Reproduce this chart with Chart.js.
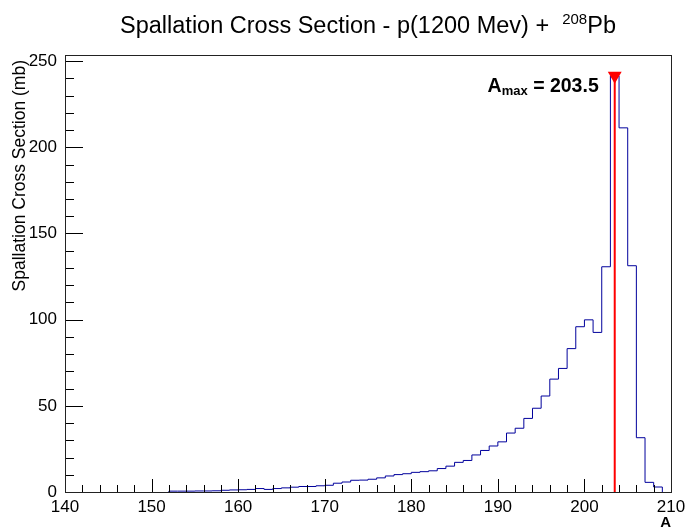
<!DOCTYPE html>
<html>
<head>
<meta charset="utf-8">
<script src="https://cdn.jsdelivr.net/npm/chart.js@4/dist/chart.umd.min.js"></script>
<style>
  html, body { margin: 0; padding: 0; background: #fff; }
  canvas { display: block; }
</style>
</head>
<body>
<canvas id="chart" width="686" height="528"></canvas>
<script>
// Mass number A of each 1-unit bin (bin covers [A, A+1])
const massNumbers = [
  152, 153, 154, 155, 156, 157, 158, 159, 160, 161,
  162, 163, 164, 165, 166, 167, 168, 169, 170, 171,
  172, 173, 174, 175, 176, 177, 178, 179, 180, 181,
  182, 183, 184, 185, 186, 187, 188, 189, 190, 191,
  192, 193, 194, 195, 196, 197, 198, 199, 200, 201,
  202, 203, 204, 205, 206, 207, 208
];
// Spallation cross section per bin (mb)
const crossSections = [
  0.5, 0.5, 0.5, 0.6, 0.6, 0.7, 1.0, 1.2, 1.3, 1.5,
  2.0, 1.5, 2.0, 2.4, 2.8, 3.2, 3.2, 3.6, 3.9, 5.1,
  5.8, 6.8, 6.9, 7.4, 8.2, 9.3, 10.1, 10.6, 11.4, 11.8,
  12.3, 13.6, 15.0, 17.2, 18.3, 21.5, 24.1, 26.7, 29.1, 34.2,
  37.0, 42.7, 48.6, 55.7, 65.5, 71.7, 83.2, 95.9, 99.9, 92.6,
  130.7, 241.5, 211.3, 131.3, 31.5, 5.6, 2.9
];
const peakMass = 203.5;
const peakCrossSection = 241.5;

const xTickValues = [140, 150, 160, 170, 180, 190, 200, 210];
const yTickValues = [0, 50, 100, 150, 200, 250];
const xRange = [140, 210];
const yRange = [0, peakCrossSection * 1.05];

const FONT = '"Liberation Sans", Arial, Helvetica, sans-serif';

// Histogram outline: one point per bin left edge, closed back to zero at the end
const histPoints = [{ x: massNumbers[0], y: 0 }];
massNumbers.forEach((a, i) => histPoints.push({ x: a, y: crossSections[i] }));
histPoints.push({ x: massNumbers[massNumbers.length - 1] + 1, y: 0 });

const px = v => Math.round(v) + 0.5;

const decorations = {
  id: 'decorations',
  afterDraw(chart) {
    const { ctx, chartArea: a, scales: { x, y } } = chart;
    ctx.save();

    // inward tick marks on the bottom and left axes
    ctx.strokeStyle = '#000';
    ctx.lineWidth = 1;
    ctx.beginPath();
    for (let v = xRange[0]; v <= xRange[1]; v += 2) {
      const len = v % 10 === 0 ? 13 : 7;
      const X = px(x.getPixelForValue(v));
      ctx.moveTo(X, a.bottom);
      ctx.lineTo(X, a.bottom - len);
    }
    for (let v = 0; v <= 250; v += 10) {
      const len = v % 50 === 0 ? 18 : 9;
      const Y = px(y.getPixelForValue(v));
      ctx.moveTo(a.left, Y);
      ctx.lineTo(a.left + len, Y);
    }
    ctx.stroke();

    // frame
    ctx.strokeStyle = '#222';
    ctx.strokeRect(px(a.left), px(a.top), Math.round(a.right - a.left), Math.round(a.bottom - a.top));

    // peak annotation
    const tx = x.getPixelForValue(peakMass) - 16;
    const ty = y.getPixelForValue(peakCrossSection) + 16;
    ctx.fillStyle = '#000';
    ctx.textBaseline = 'alphabetic';
    ctx.textAlign = 'left';
    const bigFont = `bold 19.5px ${FONT}`;
    const subFont = `bold 13px ${FONT}`;
    ctx.font = bigFont;
    const wA = ctx.measureText('A').width;
    const wRest = ctx.measureText(' = 203.5').width;
    ctx.font = subFont;
    const wSub = ctx.measureText('max').width;
    let cx = tx - (wA + wSub + wRest);
    ctx.font = bigFont;
    ctx.fillText('A', cx, ty);
    cx += wA;
    ctx.font = subFont;
    ctx.fillText('max', cx, ty + 3);
    cx += wSub;
    ctx.font = bigFont;
    ctx.fillText(' = 203.5', cx, ty);

    // title with superscript mass number
    const tFont = `23.5px ${FONT}`;
    const supFont = `15px ${FONT}`;
    const t1 = 'Spallation Cross Section - p(1200 Mev) +  ';
    ctx.font = tFont;
    const w1 = ctx.measureText(t1).width;
    const w3 = ctx.measureText('Pb').width;
    ctx.font = supFont;
    const w2 = ctx.measureText('208').width;
    const titleCenter = (a.left + a.right) / 2;
    let sx = titleCenter - (w1 + w2 + w3) / 2;
    const base = 33;
    ctx.font = tFont;
    ctx.fillText(t1, sx, base);
    sx += w1;
    ctx.font = supFont;
    ctx.fillText('208', sx, base - 9);
    sx += w2;
    ctx.font = tFont;
    ctx.fillText('Pb', sx, base);

    // axis titles
    ctx.font = `bold 15px ${FONT}`;
    ctx.textAlign = 'right';
    ctx.fillText('A', a.right, 527);

    ctx.save();
    ctx.translate(20, a.top);
    ctx.rotate(-Math.PI / 2);
    ctx.font = `17.5px ${FONT}`;
    ctx.textAlign = 'right';
    ctx.textBaseline = 'middle';
    ctx.fillText('Spallation Cross Section (mb)', -5, 0);
    ctx.restore();

    ctx.restore();
  }
};

new Chart(document.getElementById('chart'), {
  type: 'line',
  data: {
    datasets: [
      {
        label: 'A_max',
        data: [{ x: peakMass, y: 0 }, { x: peakMass, y: peakCrossSection }],
        borderColor: '#ff0000',
        borderWidth: 2,
        pointRadius: [0, 8],
        pointStyle: 'triangle',
        rotation: 180,
        pointBackgroundColor: '#ff0000',
        pointBorderColor: '#ff0000',
        pointBorderWidth: 0,
        fill: false,
        clip: false
      },
      {
        label: 'Spallation cross section',
        data: histPoints,
        borderColor: '#00009c',
        borderWidth: 1,
        stepped: 'before',
        pointRadius: 0,
        fill: false,
        tension: 0
      }
    ]
  },
  options: {
    responsive: false,
    animation: false,
    events: [],
    layout: { padding: { top: 55, right: 15, left: 0, bottom: 0 } },
    plugins: { legend: { display: false }, title: { display: false }, tooltip: { enabled: false } },
    scales: {
      x: {
        type: 'linear',
        min: xRange[0],
        max: xRange[1],
        afterBuildTicks: s => { s.ticks = xTickValues.map(v => ({ value: v })); },
        afterFit: s => { s.height = 36; s.paddingLeft = 0; s.paddingRight = 0; },
        grid: { display: false, drawTicks: false },
        border: { display: false },
        ticks: {
          autoSkip: false, maxRotation: 0, padding: 5,
          color: '#000',
          font: { family: FONT, size: 17 }
        }
      },
      y: {
        type: 'linear',
        min: yRange[0],
        max: yRange[1],
        afterBuildTicks: s => { s.ticks = yTickValues.map(v => ({ value: v })); },
        afterFit: s => { s.width = 65; s.paddingTop = 0; s.paddingBottom = 0; },
        grid: { display: false, drawTicks: false },
        border: { display: false },
        ticks: {
          padding: 8,
          color: '#000',
          font: { family: FONT, size: 17 }
        }
      }
    }
  },
  plugins: [decorations]
});
</script>
</body>
</html>
